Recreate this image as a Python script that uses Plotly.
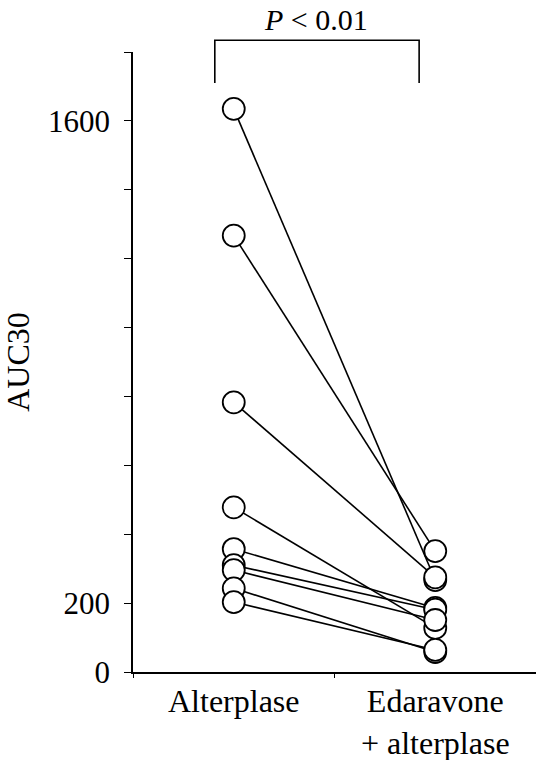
import plotly.graph_objects as go

categories = ["Alterplase", "Edaravone<br>+ alterplase"]
alterplase = [1635, 1267, 783, 478, 357, 310, 296, 243, 203]
edaravone_alterplase = [267, 351, 275, 128, 186, 181, 151, 58, 64]
y_tickvals = [0, 200, 400, 600, 800, 1000, 1200, 1400, 1600, 1800]
y_ticktext = ["0", "200", "", "", "", "", "", "", "1600", ""]
y_title = "AUC30"
p_text = "<i>P</i> < 0.01"

FONT = "Liberation Serif"

fig = go.Figure()
for a, e in zip(alterplase, edaravone_alterplase):
    fig.add_trace(go.Scatter(x=categories, y=[a, e], mode="lines",
                             line=dict(color="black", width=1.6),
                             showlegend=False, hoverinfo="skip"))

fig.add_trace(go.Scatter(
    x=[categories[0]] * len(alterplase) + [categories[1]] * len(edaravone_alterplase),
    y=alterplase + edaravone_alterplase,
    mode="markers",
    marker=dict(size=22, color="white", line=dict(color="black", width=1.8)),
    showlegend=False))

fig.update_layout(
    width=536, height=760,
    margin=dict(l=133, r=0, t=52, b=88),
    paper_bgcolor="white", plot_bgcolor="white",
    font=dict(family=FONT, size=31, color="black"),
    xaxis=dict(type="category", range=[-0.5, 1.5], tickson="boundaries",
               automargin=False,
               showline=True, linecolor="black", linewidth=1.5,
               ticks="outside", ticklen=4, tickcolor="black", tickwidth=1.2,
               showgrid=False, zeroline=False,
               tickfont=dict(family=FONT, size=32)),
    yaxis=dict(range=[0, 1800], tickvals=y_tickvals, ticktext=y_ticktext,
               automargin=False,
               showline=True, linecolor="black", linewidth=1.5,
               ticks="outside", ticklen=7, tickcolor="black", tickwidth=1.2,
               showgrid=False, zeroline=False, ticklabelstandoff=8,
               tickfont=dict(family=FONT, size=31),
               title=dict(text=y_title, font=dict(family=FONT, size=32), standoff=30)),
)

fig.add_shape(type="path", xref="paper", yref="paper",
              path="M 0.203 0.950 L 0.203 1.019 L 0.710 1.019 L 0.710 0.950",
              line=dict(color="black", width=1.6))
fig.add_annotation(text=p_text, xref="paper", yref="paper", x=0.454, y=1.053,
                   showarrow=False, font=dict(family=FONT, size=30),
                   xanchor="center", yanchor="middle")

fig.write_html("out.html", config={"displayModeBar": False},
               post_script="document.body.style.margin='0px';document.body.style.padding='0px';")
